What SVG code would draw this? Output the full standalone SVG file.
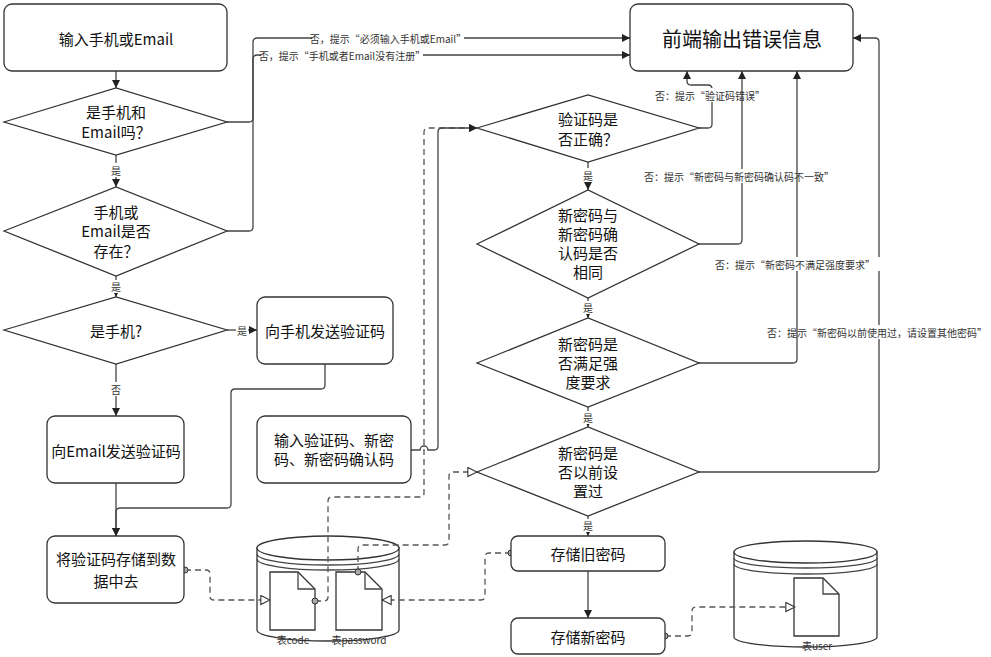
<svg xmlns="http://www.w3.org/2000/svg" width="991" height="657" viewBox="0 0 991 657">
<style>
  .box{fill:#fff;stroke:#333;stroke-width:1.3}
  .ln{fill:none;stroke:#444;stroke-width:1.3}
  .dash{fill:none;stroke:#555;stroke-width:1.3;stroke-dasharray:6 4}
  .t{font-family:"Noto Sans CJK SC","Noto Sans",sans-serif;font-size:15px;fill:#111;text-anchor:middle;dominant-baseline:central}
  .big{font-size:20px}
  .lb{font-family:"Noto Sans CJK SC","Noto Sans",sans-serif;font-size:10px;fill:#333;text-anchor:middle;dominant-baseline:central}
  .bg{fill:#fff;stroke:none}
  .dot{fill:#aaa;stroke:#333;stroke-width:1}
</style>
<defs>
  <marker id="ar" viewBox="0 0 10 10" refX="10" refY="5" markerWidth="8" markerHeight="8" markerUnits="userSpaceOnUse" orient="auto">
    <path d="M0,0 L10,5 L0,10 Z" fill="#222"/>
  </marker>
  <marker id="op" viewBox="0 0 12 12" refX="11" refY="6" markerWidth="11" markerHeight="11" markerUnits="userSpaceOnUse" orient="auto">
    <path d="M1,1 L11,6 L1,11 Z" fill="#fff" stroke="#333" stroke-width="1.2"/>
  </marker>
</defs>

<g id="db1">
  <path class="box" d="M257,548 V630 A71,11 0 0 0 399,630 V548 Z"/>
  <ellipse class="box" cx="328" cy="548" rx="71" ry="12"/>
  <path class="ln" d="M257,554 A71,11 0 0 0 399,554"/>
  <path class="ln" d="M257,559 A71,11 0 0 0 399,559"/>
  <path class="box" d="M270,572 H298 L315,589 V630 H270 Z"/><path class="ln" d="M298,572 V589 H315"/>
  <path class="box" d="M336,572 H365 L382,589 V630 H336 Z"/><path class="ln" d="M365,572 V589 H382"/>
  <text class="lb" x="293" y="639">表code</text>
  <text class="lb" x="359" y="639">表password</text>
</g>

<g id="db2">
  <path class="box" d="M734,552 V637 A71.5,10 0 0 0 877,637 V552 Z"/>
  <ellipse class="box" cx="805.5" cy="552" rx="71.5" ry="11"/>
  <path class="ln" d="M734,558 A71.5,10 0 0 0 877,558"/>
  <path class="ln" d="M734,564 A71.5,10 0 0 0 877,564"/>
  <path class="box" d="M794,578 H823 L839,594 V636 H794 Z"/><path class="ln" d="M823,578 V594 H839"/>
  <text class="lb" x="817" y="645">表user</text>
</g>

<g id="connectors">
  <path class="ln" d="M116,71 V88" marker-end="url(#ar)"/>
  <path class="ln" d="M116,155 V187" marker-end="url(#ar)"/>
  <rect class="bg" x="110" y="163" width="12" height="14"/><text class="lb" x="116" y="170">是</text>
  <path class="ln" d="M227,122 H249 Q253,122 253,118 V42 Q253,38 257,38 H630" marker-end="url(#ar)"/>
  <rect class="bg" x="312" y="31" width="152" height="14"/><text class="lb" x="388" y="38">否，提示“必须输入手机或Email”</text>
  <path class="ln" d="M227,231 H249 Q253,231 253,227 V59 Q253,55 257,55 H630" marker-end="url(#ar)"/>
  <rect class="bg" x="261" y="48" width="162" height="14"/><text class="lb" x="342" y="55">否，提示“手机或者Email没有注册”</text>
  <path class="ln" d="M116,276 V297" marker-end="url(#ar)"/>
  <rect class="bg" x="110" y="280" width="12" height="13"/><text class="lb" x="116" y="286">是</text>
  <path class="ln" d="M227,330 H257" marker-end="url(#ar)"/>
  <rect class="bg" x="236" y="323" width="12" height="14"/><text class="lb" x="242" y="330">是</text>
  <path class="ln" d="M116,364 V416" marker-end="url(#ar)"/>
  <rect class="bg" x="110" y="382" width="12" height="14"/><text class="lb" x="116" y="389">否</text>
  <path class="ln" d="M325,364 V385 Q325,389 321,389 H235 Q231,389 231,393 V504 Q231,508 227,508 H120 Q116,508 116,512 V536" marker-end="url(#ar)"/>
  <path class="ln" d="M116,483 V536" marker-end="url(#ar)"/>

  <path class="dash" d="M185,570 H206 Q210,570 210,574 V596 Q210,600 214,600 H270" marker-end="url(#op)"/>
  <circle class="dot" cx="185" cy="570" r="3"/>
  <path class="dash" d="M315,601 H324 Q328,601 328,597 V501 Q328,497 332,497 H420 Q424,497 424,493 V132 Q424,128 428,128 H477" marker-end="url(#ar)"/>
  <circle class="dot" cx="315" cy="601" r="3"/>
  <path class="ln" d="M411,450 H420 A4,4 0 0 1 428,450 H434 Q438,450 438,446 V132 Q438,128 442,128 H477" marker-end="url(#ar)"/>
  <path class="dash" d="M358,572 V549 Q358,545 362,545 H445 Q449,545 449,541 V476 Q449,472 453,472 H477" marker-end="url(#op)"/>
  <circle class="dot" cx="358" cy="572" r="3"/>
  <path class="dash" d="M511,553 H489 Q485,553 485,557 V596 Q485,600 481,600 H382" marker-end="url(#op)"/>
  <circle class="dot" cx="511" cy="553" r="3"/>
  <path class="dash" d="M665,636 H688 Q692,636 692,632 V611 Q692,607 696,607 H795" marker-end="url(#op)"/>
  <circle class="dot" cx="665" cy="636" r="3"/>

  <path class="ln" d="M588,162 V190" marker-end="url(#ar)"/>
  <rect class="bg" x="582" y="168" width="12" height="14"/><text class="lb" x="588" y="175">是</text>
  <path class="ln" d="M588,298 V318" marker-end="url(#ar)"/>
  <rect class="bg" x="582" y="301" width="12" height="13"/><text class="lb" x="588" y="307">是</text>
  <path class="ln" d="M588,407 V427" marker-end="url(#ar)"/>
  <rect class="bg" x="582" y="411" width="12" height="13"/><text class="lb" x="588" y="417">是</text>
  <path class="ln" d="M588,516 V536" marker-end="url(#ar)"/>
  <rect class="bg" x="582" y="519" width="12" height="13"/><text class="lb" x="588" y="525">是</text>
  <path class="ln" d="M588,571 V618" marker-end="url(#ar)"/>

  <path class="ln" d="M699,128 H708 Q712,128 712,124 V89 Q712,85 708,85 H691 Q687,85 687,81 V71" marker-end="url(#ar)"/>
  <rect class="bg" x="657" y="88" width="108" height="14"/><text class="lb" x="710" y="95">否：提示“验证码错误”</text>
  <path class="ln" d="M699,472 H875 Q879,472 879,468 V42 Q879,38 875,38 H853" marker-end="url(#ar)"/>
  <rect class="bg" x="768" y="325" width="219" height="14"/><text class="lb" x="877" y="332">否：提示“新密码以前使用过，请设置其他密码”</text>
  <path class="ln" d="M699,244 H738 Q742,244 742,240 V71" marker-end="url(#ar)"/>
  <rect class="bg" x="636" y="169" width="206" height="14"/><text class="lb" x="739" y="176">否：提示“新密码与新密码确认码不一致”</text>
  <path class="ln" d="M699,363 H793 Q797,363 797,359 V71" marker-end="url(#ar)"/>
  <rect class="bg" x="709" y="257" width="171" height="14"/><text class="lb" x="795" y="264">否：提示“新密码不满足强度要求”</text>
</g>

<g id="n1"><rect class="box" x="4" y="4" width="223" height="67" rx="8"/><text class="t" x="116" y="38">输入手机或Email</text></g>
<g id="n2"><path class="box" d="M4,122 L116,88 L227,122 L116,155 Z"/><text class="t" x="116" y="111">是手机和</text><text class="t" x="116" y="131">Email吗？</text></g>
<g id="n3"><path class="box" d="M4,231 L116,187 L227,231 L116,276 Z"/><text class="t" x="116" y="211">手机或</text><text class="t" x="116" y="230">Email是否</text><text class="t" x="116" y="250">存在？</text></g>
<g id="n4"><path class="box" d="M4,330 L116,297 L227,330 L116,364 Z"/><text class="t" x="116" y="330">是手机?</text></g>
<g id="n5"><rect class="box" x="257" y="297" width="136" height="67" rx="8"/><text class="t" x="325" y="330">向手机发送验证码</text></g>
<g id="n6"><rect class="box" x="47" y="416" width="137" height="67" rx="8"/><text class="t" x="116" y="450">向Email发送验证码</text></g>
<g id="n7"><rect class="box" x="257" y="416" width="154" height="67" rx="8"/><text class="t" x="334" y="439">输入验证码、新密</text><text class="t" x="334" y="458">码、新密码确认码</text></g>
<g id="n8"><rect class="box" x="47" y="536" width="137" height="67" rx="8"/><text class="t" x="116" y="558">将验证码存储到数</text><text class="t" x="116" y="580">据中去</text></g>

<g id="n10"><rect class="box" x="630" y="4" width="223" height="67" rx="8"/><text class="t big" x="742" y="38">前端输出错误信息</text></g>
<g id="n11"><path class="box" d="M477,128 L588,95 L699,128 L588,162 Z"/><text class="t" x="588" y="118">验证码是</text><text class="t" x="588" y="138">否正确？</text></g>
<g id="n12"><path class="box" d="M477,244 L588,190 L699,244 L588,298 Z"/><text class="t" x="588" y="214">新密码与</text><text class="t" x="588" y="233">新密码确</text><text class="t" x="588" y="252">认码是否</text><text class="t" x="588" y="271">相同</text></g>
<g id="n13"><path class="box" d="M477,363 L588,318 L699,363 L588,407 Z"/><text class="t" x="588" y="343">新密码是</text><text class="t" x="588" y="362">否满足强</text><text class="t" x="588" y="381">度要求</text></g>
<g id="n14"><path class="box" d="M477,472 L588,427 L699,472 L588,516 Z"/><text class="t" x="588" y="452">新密码是</text><text class="t" x="588" y="471">否以前设</text><text class="t" x="588" y="490">置过</text></g>
<g id="n15"><rect class="box" x="511" y="536" width="154" height="35" rx="7"/><text class="t" x="588" y="553">存储旧密码</text></g>
<g id="n16"><rect class="box" x="511" y="618" width="154" height="36" rx="7"/><text class="t" x="588" y="636">存储新密码</text></g>
</svg>
